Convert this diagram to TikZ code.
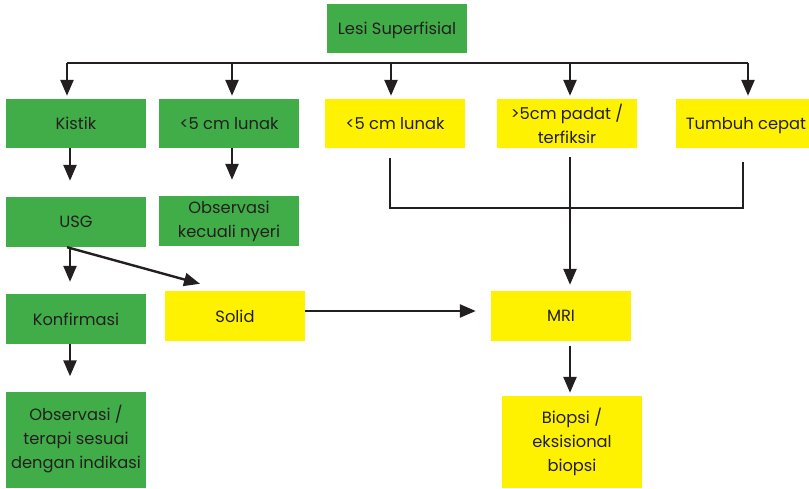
\documentclass[tikz,border=0pt]{standalone}
\usepackage{fontspec}
\setmainfont{Poppins}
\usetikzlibrary{arrows.meta}
\definecolor{grn}{HTML}{41AD49}
\definecolor{ylw}{HTML}{FFF200}
\definecolor{ink}{HTML}{231F20}
\tikzset{
  box/.style={rectangle, minimum width=140pt, minimum height=49pt, align=center,
    text=ink, inner sep=0pt, font=\fontsize{16.3}{24}\selectfont},
  gbox/.style={box, fill=grn},
  ybox/.style={box, fill=ylw},
  oneline/.style={text depth=0pt},
  ln/.style={line width=2.4pt, draw=ink},
  arr/.style={ln, -{Triangle[length=16pt,width=13pt]}}
}
\begin{document}
\begin{tikzpicture}[x=1pt,y=-1pt]
\useasboundingbox (0,0) rectangle (809,488);

% boxes
\node[gbox, oneline] (lesi)   at (397,28.5)  {Lesi Superfisial};
\node[gbox, oneline] (kistik) at (76,123.5)  {Kistik};
\node[gbox, oneline] (lunakG) at (229,123.5) {<5 cm lunak};
\node[ybox, oneline] (lunakY) at (395,123.5) {<5 cm lunak};
\node[ybox] (padat)  at (567,123.5) {>5cm padat /\\terfiksir};
\node[ybox, oneline] (tumbuh) at (746,123.5) {Tumbuh cepat};
\node[gbox, oneline, minimum height=50pt] (usg)  at (76,222)  {USG};
\node[gbox, minimum height=50pt] (obsN) at (229,221) {Observasi\\kecuali nyeri};
\node[gbox, oneline, minimum height=50pt] (konf) at (76,319)  {Konfirmasi};
\node[ybox, oneline, minimum height=50pt] (solid) at (235,316) {Solid};
\node[ybox, oneline, minimum height=50pt] (mri)   at (561,316) {MRI};
\node[gbox, minimum height=96pt] (obsT)  at (76,439.5) {Observasi /\\terapi sesuai\\dengan indikasi};
\node[ybox, minimum height=92pt] (biopsi) at (572,442) {Biopsi /\\eksisional\\biopsi};

% branching bus under the root
\coordinate (bus) at (0,63);
\draw[ln] ([xshift=-9pt]kistik.north |- bus) -- ([xshift=2pt]tumbuh.north |- bus);
\foreach \n/\dx in {kistik/-9, lunakG/3, lunakY/-4, padat/3, tumbuh/2}
  \draw[arr, shorten >=3pt] ([xshift=\dx pt]\n.north |- bus) -- ([xshift=\dx pt]\n.north);

% left column
\draw[arr, shorten >=16pt] ([xshift=-6pt]kistik.south) -- ([xshift=-6pt]usg.north);
\draw[arr, shorten >=16pt] ([xshift=3pt]lunakG.south) -- ([xshift=3pt]obsN.north);
\draw[arr, shorten >=12pt] ([xshift=-6pt]usg.south) -- ([xshift=-6pt]konf.north);
\draw[arr] ([xshift=-9pt]usg.south) -- ([xshift=-35pt,yshift=7pt]solid.north);
\draw[arr, shorten >=15pt] ([xshift=-6pt]konf.south) -- ([xshift=-6pt]obsT.north);

% right side
\draw[ln, shorten <=10pt, shorten >=14pt]
  ([xshift=-5pt]lunakY.south) -- ++(0,60) -| ([xshift=-3pt]tumbuh.south);
\draw[arr, shorten <=9pt, shorten >=6pt]
  ([xshift=3pt]padat.south) -- ([xshift=3pt]padat.south |- mri.north);
\draw[arr, shorten >=15pt] ([yshift=5pt]solid.east) -- ([yshift=5pt]solid.east -| mri.west);
\draw[arr, shorten <=5pt, shorten >=3pt]
  ([xshift=9pt]mri.south) -- ([xshift=9pt]mri.south |- biopsi.north);
\end{tikzpicture}
\end{document}
